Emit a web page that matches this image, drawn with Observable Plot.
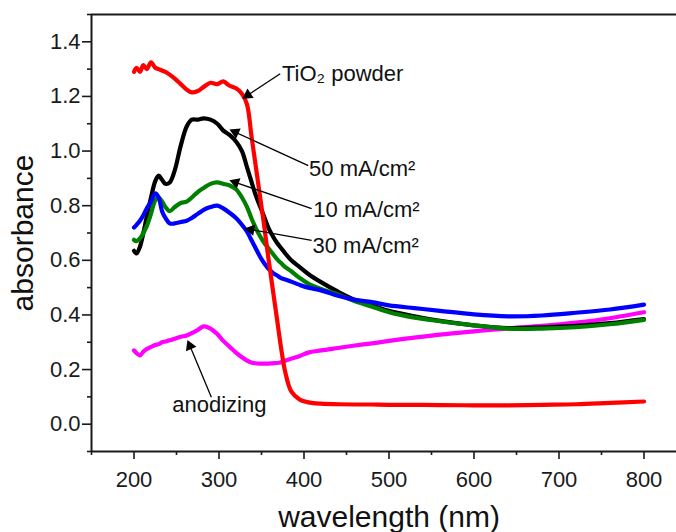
<!DOCTYPE html>
<html>
<head>
<meta charset="utf-8">
<script src="https://cdn.jsdelivr.net/npm/d3@7"></script>
<script src="https://cdn.jsdelivr.net/npm/@observablehq/plot@0.6"></script>
<style>
  html, body { margin: 0; padding: 0; background: #fff; overflow: hidden; }
  #chart { width: 676px; height: 532px; overflow: hidden; }
  #chart svg { max-width: none !important; }
</style>
</head>
<body>
<div id="chart"></div>
<script>
// wavelength grid (nm)
const wavelength = [200,203,207,211,215,220,225,229,233,237,242,248,255,262,268,275,282,290,298,305,312,320,327,333,338,343,348,353,358,363,368,373,378,385,395,405,420,440,460,480,500,530,560,600,640,680,720,760,800];

const tio2Powder = [1.29,1.305,1.29,1.315,1.30,1.325,1.305,1.30,1.295,1.29,1.28,1.265,1.245,1.225,1.215,1.22,1.235,1.25,1.245,1.255,1.24,1.23,1.21,1.17,1.06,0.95,0.84,0.73,0.61,0.50,0.39,0.28,0.19,0.12,0.09,0.08,0.075,0.073,0.072,0.072,0.071,0.071,0.07,0.069,0.069,0.071,0.073,0.078,0.083];

const ma50 = [0.635,0.625,0.65,0.70,0.76,0.83,0.89,0.91,0.895,0.88,0.885,0.93,1.02,1.09,1.115,1.115,1.12,1.115,1.10,1.075,1.06,1.035,1.00,0.94,0.89,0.84,0.80,0.76,0.72,0.69,0.665,0.645,0.625,0.60,0.575,0.55,0.52,0.485,0.455,0.435,0.415,0.395,0.378,0.362,0.352,0.355,0.36,0.37,0.385];

const ma10 = [0.675,0.67,0.68,0.70,0.725,0.77,0.82,0.83,0.815,0.795,0.78,0.795,0.81,0.815,0.83,0.85,0.865,0.88,0.885,0.88,0.875,0.86,0.83,0.795,0.755,0.72,0.69,0.665,0.645,0.625,0.605,0.59,0.575,0.56,0.535,0.515,0.495,0.475,0.45,0.43,0.41,0.39,0.377,0.362,0.35,0.35,0.355,0.366,0.382];

const ma30 = [0.72,0.73,0.745,0.765,0.79,0.815,0.845,0.83,0.78,0.755,0.735,0.735,0.74,0.745,0.755,0.77,0.785,0.795,0.80,0.79,0.775,0.755,0.73,0.705,0.675,0.645,0.615,0.59,0.57,0.555,0.545,0.535,0.53,0.522,0.51,0.50,0.49,0.47,0.455,0.447,0.435,0.425,0.415,0.402,0.395,0.398,0.408,0.42,0.438];

const anodizing = [0.27,0.26,0.252,0.265,0.275,0.283,0.29,0.293,0.30,0.303,0.307,0.313,0.32,0.325,0.333,0.345,0.358,0.35,0.33,0.305,0.285,0.262,0.245,0.233,0.226,0.223,0.222,0.222,0.222,0.223,0.224,0.227,0.232,0.24,0.25,0.262,0.27,0.279,0.288,0.296,0.305,0.317,0.328,0.34,0.351,0.36,0.372,0.388,0.41];

const seriesNames  = ["TiO2 powder", "50 mA/cm2", "10 mA/cm2", "30 mA/cm2", "anodizing"];
const seriesColors = ["#ff0000", "#000000", "#008000", "#0000ff", "#ff00ff"];
const seriesValues = [tio2Powder, ma50, ma10, ma30, anodizing];

// annotations: label text, label anchor point, arrow tail and tip
const annoLabels = ["TiO\u2082 powder", "50 mA/cm\u00B2", "10 mA/cm\u00B2", "30 mA/cm\u00B2", "anodizing"];
const annoTextX  = [374, 406, 411, 410, 245];
const annoTextY  = [1.284, 0.933, 0.786, 0.651, 0.072];
const arrowX1 = [372, 405, 409, 409, 291];
const arrowY1 = [1.283, 0.947, 0.789, 0.673, 0.099];
const arrowX2 = [330, 315, 315, 333, 264];
const arrowY2 = [1.197, 1.075, 0.890, 0.715, 0.30];

const xMajor = [200,300,400,500,600,700,800];
const xMinor = [150,250,350,450,550,650,750,850];
const yMajor = [0,0.2,0.4,0.6,0.8,1.0,1.2,1.4];
const yMinor = [-0.1,0.1,0.3,0.5,0.7,0.9,1.1,1.3,1.5];

const lineMarks = seriesValues.map((vals, k) =>
  Plot.line(wavelength.map((w, i) => ({w, a: vals[i]})), {
    x: "w", y: "a", stroke: seriesColors[k], strokeWidth: 4.2, curve: "catmull-rom"
  })
);
const ordered = [lineMarks[4], lineMarks[1], lineMarks[2], lineMarks[3], lineMarks[0]];

const annos = annoLabels.map((t, i) => ({t, tx: annoTextX[i], ty: annoTextY[i], x1: arrowX1[i], y1: arrowY1[i], x2: arrowX2[i], y2: arrowY2[i]}));

const axisColor = "#1a1a1a";
function makePlot(extra) {
  return Plot.plot({
    width: 686,
    height: 532,
    marginTop: 14,
    marginBottom: 81,
    marginLeft: 91,
    marginRight: 0,
    style: {fontFamily: "'Liberation Sans', Arial, sans-serif", fontSize: "22px", color: axisColor, background: "#fff", maxWidth: "none"},
    x: {domain: [150, 850]},
    y: {domain: [-0.1, 1.5]},
    marks: [
      Plot.ruleY([1.5], {stroke: axisColor, strokeWidth: 2}),
      Plot.ruleY([-0.1], {stroke: axisColor, strokeWidth: 2}),
      Plot.ruleX([150], {stroke: axisColor, strokeWidth: 2}),
      Plot.ruleX([850], {stroke: axisColor, strokeWidth: 2}),
      Plot.axisX(xMajor, {tickSize: 8, tickPadding: 12, strokeWidth: 1.6, fontSize: 22, label: null, tickFormat: d => String(d)}),
      Plot.axisX(xMinor, {tickSize: 4, strokeWidth: 1.6, label: null, tickFormat: () => ""}),
      Plot.axisY(yMajor, {tickSize: 9, tickPadding: 2, strokeWidth: 1.6, fontSize: 22, label: null, tickFormat: d => d.toFixed(1)}),
      Plot.axisY(yMinor, {tickSize: 4, strokeWidth: 1.6, label: null, tickFormat: () => ""}),
      ...ordered,
      Plot.link(annos, {x1: "x1", y1: "y1", x2: "x2", y2: "y2", stroke: "#000", strokeWidth: 1.3}),
      ...extra,
      Plot.text(annos, {x: "tx", y: "ty", text: "t", textAnchor: "start", fontSize: 22, fill: "#111"}),
      Plot.text(["wavelength (nm)"], {frameAnchor: "bottom", textAnchor: "middle", dy: 75, fontSize: 30, fill: "#111"}),
      Plot.text(["absorbance"], {frameAnchor: "left", textAnchor: "middle", rotate: -90, dx: -68, fontSize: 30, fill: "#111"})
    ]
  });
}

// first pass: read the scales to orient the filled arrowheads
const probe = makePlot([]);
const sx = probe.scale("x"), sy = probe.scale("y");
const headMarks = annos.map(a => {
  const dx = sx.apply(a.x2) - sx.apply(a.x1);
  const dy = sy.apply(a.y2) - sy.apply(a.y1);
  const len = Math.hypot(dx, dy);
  const ux = dx / len, uy = dy / len;
  const angle = Math.atan2(dx, -dy) * 180 / Math.PI;
  const back = 4;
  return Plot.dot([a], {x: "x2", y: "y2", symbol: "triangle", r: 4.2, fill: "#000", stroke: "none",
    rotate: angle, dx: -ux * back, dy: -uy * back});
});
const chart = makePlot(headMarks);
document.getElementById("chart").appendChild(chart);
</script>
</body>
</html>
